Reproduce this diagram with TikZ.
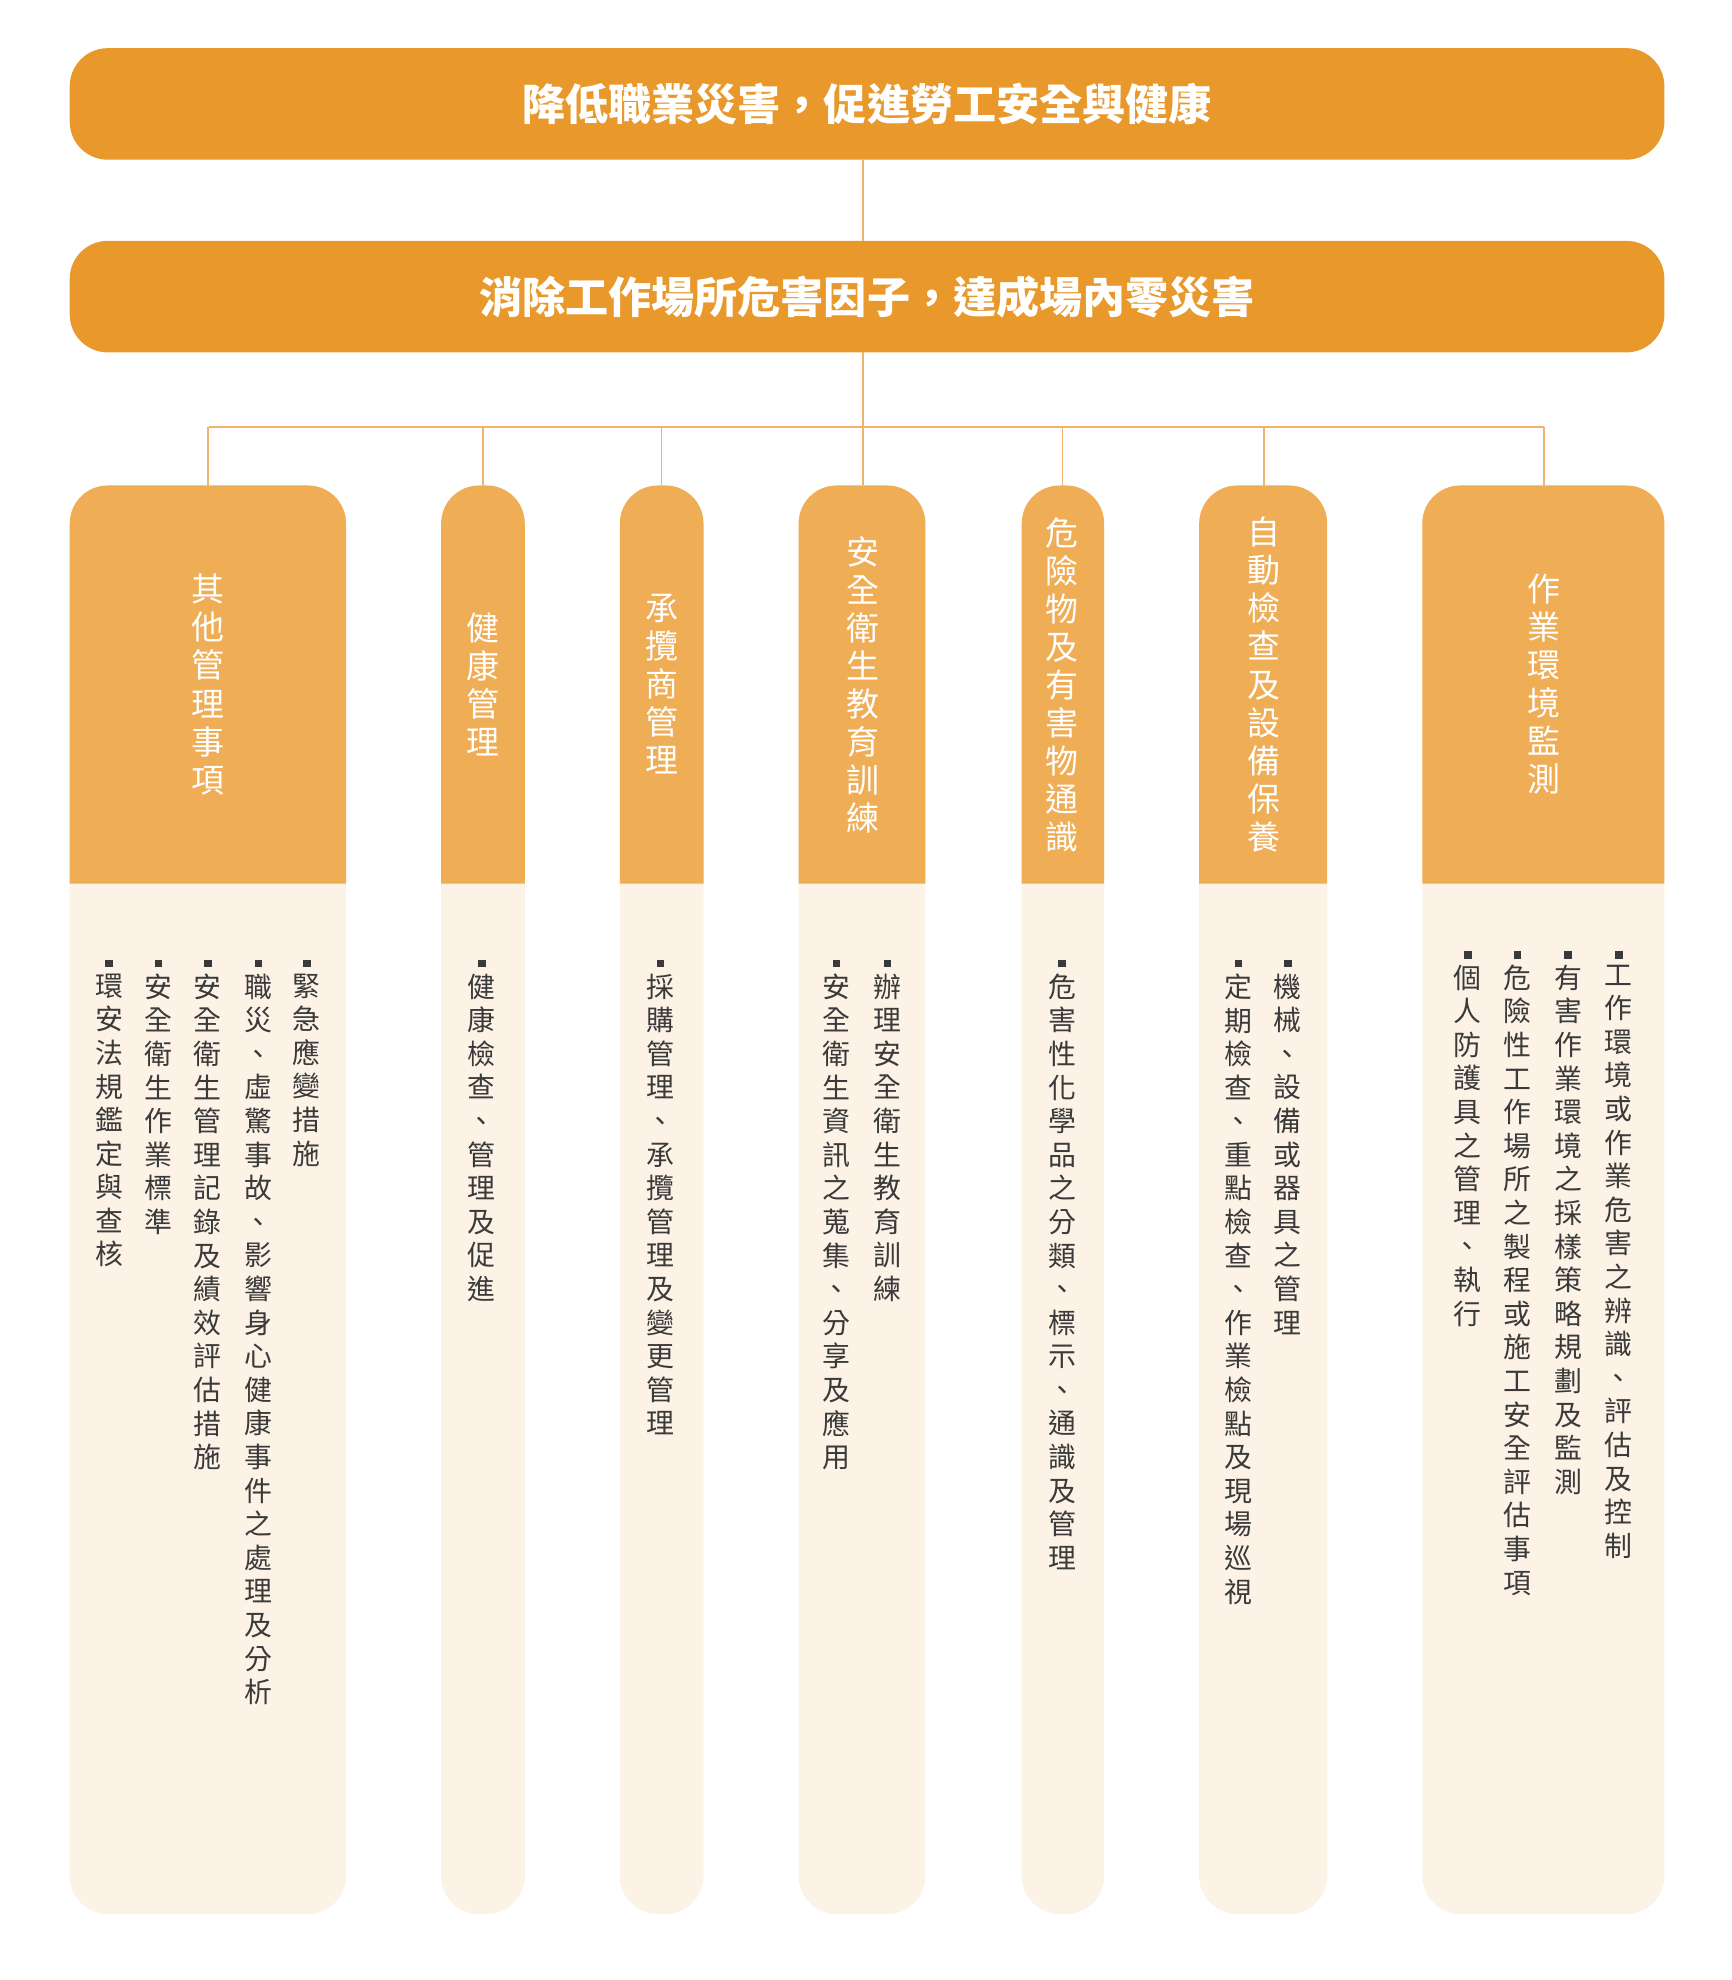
\documentclass[tikz,border=0pt]{standalone}
\usepackage{fontspec}
\setmainfont{Noto Sans CJK TC}
\definecolor{bar}{HTML}{E9982C}
\definecolor{hdr}{HTML}{EFAD56}
\definecolor{bodyc}{HTML}{FDF2E6}
\definecolor{linec}{HTML}{F0B36C}
\definecolor{txt}{HTML}{3A3A3A}
\newlength\vpitch
\makeatletter
\newcommand\vstack[1]{\vbox{\baselineskip=\vpitch\lineskip=0pt\lineskiplimit=-100pt\@tfor\vch:=#1\do{\hbox to 1.1em{\hss\vch\hss}}}}
\makeatother
\newcommand\hdrtext[1]{\fontsize{26}{30}\selectfont\setlength\vpitch{30pt}\vstack{#1}}
\newcommand\itemtext[1]{\fontsize{22}{26.5}\selectfont\setlength\vpitch{26.5pt}\vbox{\hbox to 1.1em{\hss\rule{6pt}{6pt}\hss}\vskip 4pt\vstack{#1}}}
\tikzset{
  topbar/.style={fill=bar, rounded corners=30pt},
  bartext/.style={text=white, font=\fontsize{34}{40}\selectfont\bfseries},
  conn/.style={draw=linec, line width=1.2pt},
  htext/.style={text=white, inner sep=0pt, anchor=center},
  itext/.style={text=txt, inner sep=0pt, anchor=north},
}
\begin{document}
\begin{tikzpicture}[x=1pt,y=-1pt]
\useasboundingbox (0,0) rectangle (1366,1562);
% bars
\fill[topbar] (55,38) rectangle (1313,126);
\node[bartext] (t1) at (684,82) {降低職業災害，促進勞工安全與健康};
\fill[topbar] (55,190) rectangle (1313,278);
\node[bartext] (t2) at (684,234) {消除工作場所危害因子，達成場內零災害};
\coordinate (b1) at (681,126);
\coordinate (b2t) at (681,190);
\coordinate (b2) at (681,278);
\coordinate (hub) at (681,337);
\draw[conn] (b1) -- (b2t);
\draw[conn] (b2) -- (hub);
\draw[conn] (165,337) -- (1218,337);
% columns
\foreach \xa/\xb/\cx/\name in {55/273/164/c1,348/414/381/c2,489/555/522/c3,630/730/681/c4,806/871/838/c5,946/1047/997/c6,1122/1313/1218/c7}{
  \pgfmathsetmacro\halfw{(\xb-\xa)/2}
  \pgfmathsetmacro\rr{min(30,\halfw)}
  \fill[bodyc, rounded corners=\rr pt] (\xa,383) rectangle (\xb,1510);
  \fill[hdr] (\xa,697) [rounded corners=\rr pt] -- (\xa,383) -- (\xb,383) [sharp corners] -- (\xb,697) -- cycle;
  \coordinate (\name) at (\cx,383);
  \draw[conn] (\cx,337) -- (\name);
}
% header texts
\node[htext] (h1) at (164,540) {\hdrtext{其他管理事項}};
\node[htext] (h2) at (381,540) {\hdrtext{健康管理}};
\node[htext] (h3) at (522,540) {\hdrtext{承攬商管理}};
\node[htext] (h4) at (681,540) {\hdrtext{安全衛生教育訓練}};
\node[htext] (h5) at (838,540) {\hdrtext{危險物及有害物通識}};
\node[htext] (h6) at (997,540) {\hdrtext{自動檢查及設備保養}};
\node[htext] (h7) at (1218,540) {\hdrtext{作業環境監測}};
% items
\node[itext] (i11) at (242,757) {\itemtext{緊急應變措施}};
\node[itext] (i12) at (204,757) {\itemtext{職災、虛驚事故、影響身心健康事件之處理及分析}};
\node[itext] (i13) at (164,757) {\itemtext{安全衛生管理記錄及績效評估措施}};
\node[itext] (i14) at (125,757) {\itemtext{安全衛生作業標準}};
\node[itext] (i15) at (86,757) {\itemtext{環安法規鑑定與查核}};
\node[itext] (i21) at (380,757) {\itemtext{健康檢查、管理及促進}};
\node[itext] (i31) at (521,757) {\itemtext{採購管理、承攬管理及變更管理}};
\node[itext] (i41) at (700,757) {\itemtext{辦理安全衛生教育訓練}};
\node[itext] (i42) at (660,757) {\itemtext{安全衛生資訊之蒐集、分享及應用}};
\node[itext] (i51) at (838,757) {\itemtext{危害性化學品之分類、標示、通識及管理}};
\node[itext] (i61) at (1016,757) {\itemtext{機械、設備或器具之管理}};
\node[itext] (i62) at (977,757) {\itemtext{定期檢查、重點檢查、作業檢點及現場巡視}};
\node[itext] (i71) at (1277,750) {\itemtext{工作環境或作業危害之辨識、評估及控制}};
\node[itext] (i72) at (1237,750) {\itemtext{有害作業環境之採樣策略規劃及監測}};
\node[itext] (i73) at (1197,750) {\itemtext{危險性工作場所之製程或施工安全評估事項}};
\node[itext] (i74) at (1158,750) {\itemtext{個人防護具之管理、執行}};
\end{tikzpicture}
\end{document}
